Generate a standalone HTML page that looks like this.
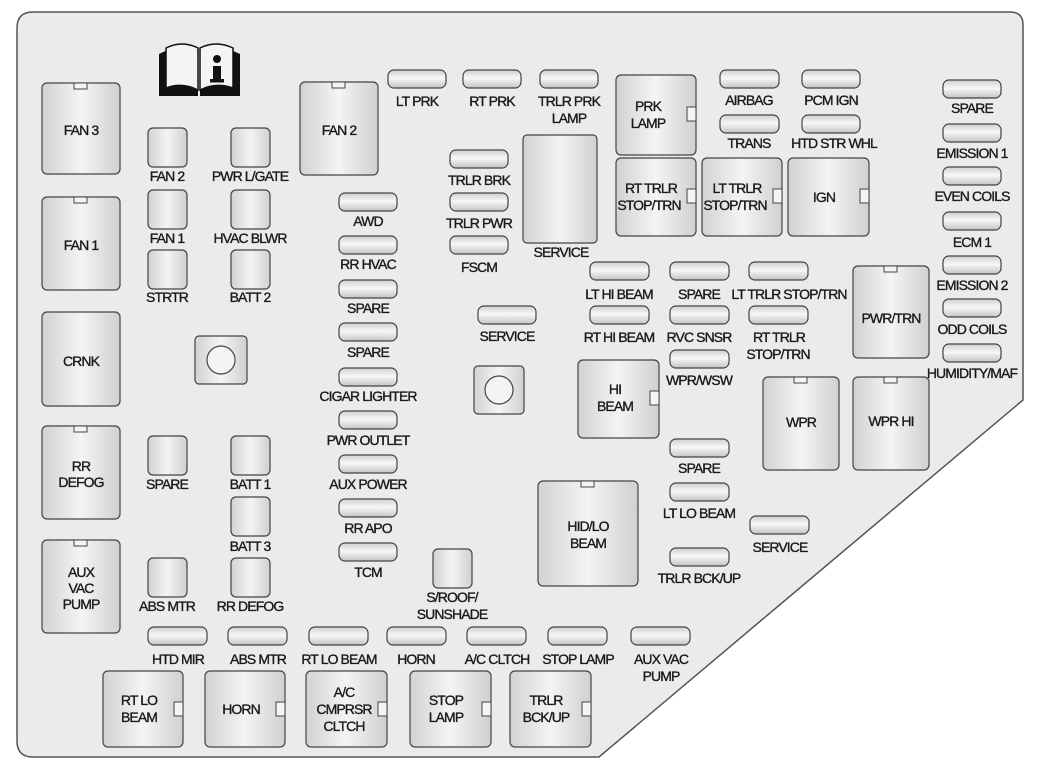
<!DOCTYPE html>
<html><head><meta charset="utf-8"><style>
html,body{margin:0;padding:0;background:#fff;}
svg{display:block;}
text{font-family:"Liberation Sans Narrow","Liberation Sans",sans-serif;font-size:14px;fill:#1a1a1a;stroke:#1a1a1a;stroke-width:0.35;text-anchor:middle;letter-spacing:-0.9px;}
.f{fill:url(#g);stroke:#444;stroke-width:1.2;}
.r{fill:url(#g2);stroke:#444;stroke-width:1.2;}
.t{fill:#f4f4f4;stroke:#444;stroke-width:1;}
</style></head><body>
<svg width="1043" height="779" viewBox="0 0 1043 779" xmlns="http://www.w3.org/2000/svg">
<defs>
<linearGradient id="g" x1="0" y1="0" x2="0" y2="1"><stop offset="0" stop-color="#cfcfcf"/><stop offset="0.45" stop-color="#f7f7f7"/><stop offset="1" stop-color="#c4c4c4"/></linearGradient>
<linearGradient id="g2" x1="0" y1="0" x2="1" y2="0"><stop offset="0" stop-color="#d2d2d2"/><stop offset="0.5" stop-color="#f4f4f4"/><stop offset="1" stop-color="#d0d0d0"/></linearGradient>
</defs>
<path d="M33,12 H1010 Q1023,12 1023,25 V400 L599,757 H33 Q17,757 17,741 V28 Q17,12 33,12 Z" fill="#ebebeb" stroke="#555" stroke-width="1.5"/>
<g>
<path d="M159,54 Q178,44 198,50 L198,96 L159,96 Z" fill="#111"/>
<path d="M200,50 Q220,44 240,54 L240,96 L200,96 Z" fill="#111"/>
<path d="M166,48 Q182,40 198,48 L198,90 Q182,82 166,88 Z" fill="#f4f4f4" stroke="#111" stroke-width="1.5"/>
<path d="M200,48 Q216,40 233,48 L233,88 Q216,82 200,90 Z" fill="#f4f4f4" stroke="#111" stroke-width="1.5"/>
<circle cx="217" cy="59" r="4" fill="#111"/>
<rect x="213" y="66" width="8" height="15" fill="#111"/>
<rect x="210" y="79" width="14" height="3.5" fill="#111"/>
</g>
<rect class="r" x="42" y="83" width="78" height="91" rx="5"/><rect class="t" x="74" y="83" width="13" height="6"/><text x="81" y="135">FAN 3</text>
<rect class="r" x="42" y="197" width="78" height="93" rx="5"/><rect class="t" x="74" y="197" width="13" height="6"/><text x="81" y="250">FAN 1</text>
<rect class="r" x="42" y="312" width="78" height="94" rx="5"/><text x="81" y="366">CRNK</text>
<rect class="r" x="42" y="426" width="78" height="93" rx="5"/><rect class="t" x="74" y="426" width="13" height="6"/><text x="81" y="471">RR</text><text x="81" y="487">DEFOG</text>
<rect class="r" x="42" y="540" width="78" height="93" rx="5"/><rect class="t" x="74" y="540" width="13" height="6"/><text x="81" y="577">AUX</text><text x="81" y="593">VAC</text><text x="81" y="609">PUMP</text>
<rect class="r" x="148" y="128" width="39" height="39" rx="5"/><text x="167" y="181">FAN 2</text>
<rect class="r" x="148" y="190" width="39" height="39" rx="5"/><text x="167" y="243">FAN 1</text>
<rect class="r" x="148" y="250" width="39" height="39" rx="5"/><text x="167" y="302">STRTR</text>
<rect class="r" x="231" y="128" width="39" height="39" rx="5"/><text x="250" y="181">PWR L/GATE</text>
<rect class="r" x="231" y="190" width="39" height="39" rx="5"/><text x="250" y="243">HVAC BLWR</text>
<rect class="r" x="231" y="250" width="39" height="39" rx="5"/><text x="250" y="302">BATT 2</text>
<rect class="r" x="148" y="436" width="39" height="39" rx="5"/><text x="167" y="489">SPARE</text>
<rect class="r" x="231" y="436" width="39" height="39" rx="5"/><text x="250" y="489">BATT 1</text>
<rect class="r" x="231" y="497" width="39" height="39" rx="5"/><text x="250" y="551">BATT 3</text>
<rect class="r" x="148" y="558" width="39" height="39" rx="5"/><text x="167" y="611">ABS MTR</text>
<rect class="r" x="231" y="558" width="39" height="39" rx="5"/><text x="250" y="611">RR DEFOG</text>
<rect class="r" x="433" y="549" width="39" height="39" rx="5"/><text x="452" y="602">S/ROOF/</text><text x="452" y="619">SUNSHADE</text>
<rect class="r" x="195" y="336" width="52" height="48" rx="4"/><circle cx="221" cy="360" r="14" fill="#f4f4f4" stroke="#444" stroke-width="1.2"/>
<rect class="r" x="474" y="366" width="50" height="48" rx="4"/><circle cx="499" cy="390" r="14" fill="#f4f4f4" stroke="#444" stroke-width="1.2"/>
<rect class="r" x="300" y="82" width="78" height="93" rx="5"/><rect class="t" x="332" y="82" width="13" height="6"/><text x="339" y="135">FAN 2</text>
<g>
<rect class="f" x="339" y="193" width="58" height="18" rx="6"/><text x="368" y="226">AWD</text>
<rect class="f" x="339" y="236" width="58" height="18" rx="6"/><text x="368" y="269">RR HVAC</text>
<rect class="f" x="339" y="280" width="58" height="18" rx="6"/><text x="368" y="313">SPARE</text>
<rect class="f" x="339" y="323" width="58" height="18" rx="6"/><text x="368" y="357">SPARE</text>
<rect class="f" x="339" y="368" width="58" height="18" rx="6"/><text x="368" y="401">CIGAR LIGHTER</text>
<rect class="f" x="339" y="411" width="58" height="18" rx="6"/><text x="368" y="445">PWR OUTLET</text>
<rect class="f" x="339" y="455" width="58" height="18" rx="6"/><text x="368" y="489">AUX POWER</text>
<rect class="f" x="339" y="499" width="58" height="18" rx="6"/><text x="368" y="533">RR APO</text>
<rect class="f" x="339" y="543" width="58" height="18" rx="6"/><text x="368" y="577">TCM</text>
</g>
<rect class="f" x="388" y="70" width="58" height="18" rx="6"/><text x="417" y="106">LT PRK</text>
<rect class="f" x="463" y="70" width="58" height="18" rx="6"/><text x="492" y="106">RT PRK</text>
<rect class="f" x="540" y="70" width="58" height="18" rx="6"/><text x="569" y="106">TRLR PRK</text><text x="569" y="123">LAMP</text>
<rect class="f" x="450" y="150" width="58" height="18" rx="6"/><text x="479" y="185">TRLR BRK</text>
<rect class="f" x="450" y="193" width="58" height="18" rx="6"/><text x="479" y="228">TRLR PWR</text>
<rect class="f" x="450" y="236" width="58" height="18" rx="6"/><text x="479" y="272">FSCM</text>
<rect class="r" x="523" y="135" width="74" height="108" rx="4"/><text x="561" y="257">SERVICE</text>
<rect class="f" x="478" y="306" width="58" height="18" rx="6"/><text x="507" y="341">SERVICE</text>
<rect class="r" x="616" y="75" width="80" height="80" rx="5"/><rect class="t" x="687" y="107" width="9" height="14"/><text x="648" y="111">PRK</text><text x="648" y="128">LAMP</text>
<rect class="f" x="720" y="70" width="59" height="18" rx="6"/><text x="749" y="105">AIRBAG</text>
<rect class="f" x="720" y="115" width="59" height="18" rx="6"/><text x="749" y="148">TRANS</text>
<rect class="f" x="802" y="70" width="58" height="18" rx="6"/><text x="831" y="105">PCM IGN</text>
<rect class="f" x="802" y="115" width="58" height="18" rx="6"/><text x="834" y="148">HTD STR WHL</text>
<rect class="r" x="616" y="158" width="80" height="78" rx="5"/><rect class="t" x="687" y="189" width="9" height="14"/><text x="651" y="193">RT TRLR</text><text x="649" y="210">STOP/TRN</text>
<rect class="r" x="702" y="158" width="80" height="78" rx="5"/><rect class="t" x="773" y="189" width="9" height="14"/><text x="737" y="193">LT TRLR</text><text x="735" y="210">STOP/TRN</text>
<rect class="r" x="788" y="158" width="81" height="78" rx="5"/><rect class="t" x="860" y="189" width="9" height="14"/><text x="824" y="202">IGN</text>
<rect class="f" x="943" y="80" width="58" height="18" rx="6"/><text x="972" y="113">SPARE</text>
<rect class="f" x="943" y="124" width="58" height="18" rx="6"/><text x="972" y="158">EMISSION 1</text>
<rect class="f" x="943" y="167" width="58" height="18" rx="6"/><text x="972" y="201">EVEN COILS</text>
<rect class="f" x="943" y="212" width="58" height="18" rx="6"/><text x="972" y="247">ECM 1</text>
<rect class="f" x="943" y="256" width="58" height="18" rx="6"/><text x="972" y="290">EMISSION 2</text>
<rect class="f" x="943" y="299" width="58" height="18" rx="6"/><text x="972" y="334">ODD COILS</text>
<rect class="f" x="943" y="344" width="58" height="18" rx="6"/><text x="972" y="378">HUMIDITY/MAF</text>
<rect class="f" x="590" y="262" width="59" height="18" rx="6"/><text x="619" y="299">LT HI BEAM</text>
<rect class="f" x="590" y="306" width="59" height="18" rx="6"/><text x="619" y="342">RT HI BEAM</text>
<rect class="f" x="670" y="262" width="59" height="18" rx="6"/><text x="699" y="299">SPARE</text>
<rect class="f" x="670" y="306" width="59" height="18" rx="6"/><text x="699" y="342">RVC SNSR</text>
<rect class="f" x="670" y="350" width="59" height="18" rx="6"/><text x="699" y="385">WPR/WSW</text>
<rect class="f" x="749" y="262" width="59" height="18" rx="6"/><text x="789" y="299">LT TRLR STOP/TRN</text>
<rect class="f" x="749" y="306" width="59" height="18" rx="6"/><text x="779" y="342">RT TRLR</text><text x="778" y="359">STOP/TRN</text>
<rect class="r" x="853" y="266" width="76" height="92" rx="5"/><rect class="t" x="884" y="266" width="13" height="6"/><text x="891" y="323">PWR/TRN</text>
<rect class="r" x="578" y="360" width="81" height="78" rx="5"/><rect class="t" x="650" y="391" width="9" height="14"/><text x="615" y="394">HI</text><text x="615" y="411">BEAM</text>
<rect class="r" x="763" y="377" width="76" height="93" rx="5"/><rect class="t" x="794" y="377" width="13" height="6"/><text x="801" y="427">WPR</text>
<rect class="r" x="853" y="377" width="76" height="93" rx="5"/><rect class="t" x="884" y="377" width="13" height="6"/><text x="891" y="426">WPR HI</text>
<rect class="f" x="670" y="439" width="59" height="18" rx="6"/><text x="699" y="473">SPARE</text>
<rect class="f" x="670" y="483" width="59" height="18" rx="6"/><text x="699" y="518">LT LO BEAM</text>
<rect class="f" x="670" y="548" width="59" height="18" rx="6"/><text x="699" y="583">TRLR BCK/UP</text>
<rect class="f" x="750" y="516" width="59" height="18" rx="6"/><text x="780" y="552">SERVICE</text>
<rect class="r" x="538" y="481" width="100" height="105" rx="5"/><rect class="t" x="581" y="481" width="13" height="6"/><text x="588" y="531">HID/LO</text><text x="588" y="548">BEAM</text>
<rect class="f" x="148" y="627" width="59" height="18" rx="6"/><text x="178" y="664">HTD MIR</text>
<rect class="f" x="228" y="627" width="59" height="18" rx="6"/><text x="258" y="664">ABS MTR</text>
<rect class="f" x="309" y="627" width="59" height="18" rx="6"/><text x="339" y="664">RT LO BEAM</text>
<rect class="f" x="387" y="627" width="59" height="18" rx="6"/><text x="416" y="664">HORN</text>
<rect class="f" x="467" y="627" width="59" height="18" rx="6"/><text x="497" y="664">A/C CLTCH</text>
<rect class="f" x="548" y="627" width="59" height="18" rx="6"/><text x="578" y="664">STOP LAMP</text>
<rect class="f" x="631" y="627" width="59" height="18" rx="6"/><text x="661" y="664">AUX VAC</text><text x="661" y="681">PUMP</text>
<rect class="r" x="103" y="671" width="80" height="76" rx="5"/><rect class="t" x="174" y="702" width="9" height="14"/><text x="139" y="705">RT LO</text><text x="139" y="722">BEAM</text>
<rect class="r" x="205" y="671" width="80" height="76" rx="5"/><rect class="t" x="276" y="702" width="9" height="14"/><text x="241" y="714">HORN</text>
<rect class="r" x="306" y="671" width="81" height="76" rx="5"/><rect class="t" x="378" y="702" width="9" height="14"/><text x="344" y="697">A/C</text><text x="344" y="714">CMPRSR</text><text x="344" y="731">CLTCH</text>
<rect class="r" x="410" y="671" width="81" height="76" rx="5"/><rect class="t" x="482" y="702" width="9" height="14"/><text x="446" y="705">STOP</text><text x="446" y="722">LAMP</text>
<rect class="r" x="510" y="671" width="81" height="76" rx="5"/><rect class="t" x="582" y="702" width="9" height="14"/><text x="546" y="705">TRLR</text><text x="546" y="722">BCK/UP</text>
</svg>
</body></html>
